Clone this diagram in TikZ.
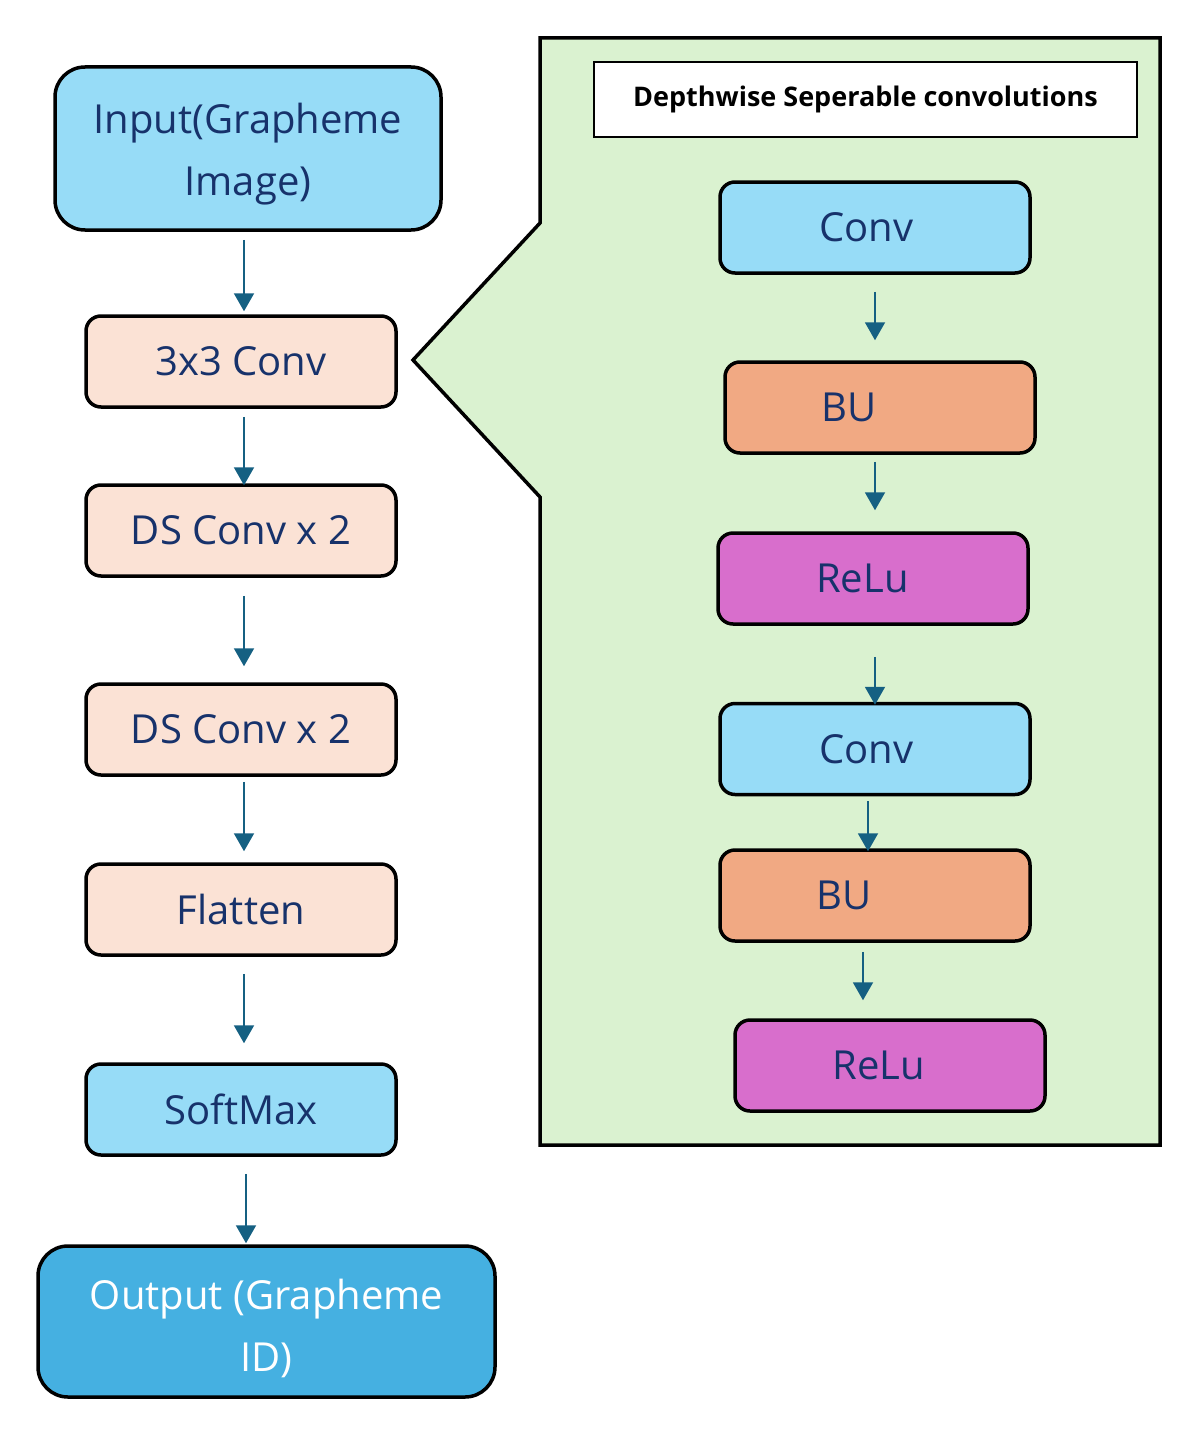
\documentclass[tikz,border=0pt]{standalone}
\usepackage{fontspec}
\setmainfont{Open Sans}
\usetikzlibrary{arrows.meta}
\definecolor{lb}{HTML}{97DCF7}
\definecolor{peach}{HTML}{FBE2D5}
\definecolor{orng}{HTML}{F1A983}
\definecolor{mag}{HTML}{D86ECC}
\definecolor{outb}{HTML}{45B0E1}
\definecolor{grn}{HTML}{DAF2D0}
\definecolor{navy}{HTML}{17326B}
\definecolor{arrowc}{HTML}{156082}
\newcommand{\mainsz}{\fontsize{40}{62}\selectfont}
\tikzset{
  box/.style={draw=black, line width=3.5pt, rounded corners=15pt, minimum width=310pt,
    minimum height=91pt, inner sep=0pt, font=\mainsz, text=navy},
  bigbox/.style={box, rounded corners=30pt, align=center},
  arr/.style={draw=arrowc, line width=2pt, -{Triangle[width=20pt,length=18pt]}},
}
\begin{document}
\begin{tikzpicture}[x=1pt,y=-1pt]
\useasboundingbox (0,0) rectangle (1200,1437);
% callout
\draw[fill=grn, line width=3.5pt, line join=miter] (540,38) -- (1160,38) -- (1160,1145) -- (540,1145) -- (540,497) -- (413,360) -- (540,223) -- cycle;
\node[draw=black, fill=white, line width=2pt, minimum width=543pt, minimum height=75pt, inner sep=0pt,
  font=\bfseries\fontsize{27}{30}\selectfont, text=black] (hd) at (865.5,99.5) {Depthwise Seperable convolutions};
% left column
\node[bigbox, fill=lb, minimum width=386pt, minimum height=163pt] (in) at (248,148.5) {\rule{0pt}{41pt}Input(Grapheme\\Image)};
\node[box, fill=peach] (c33) at (241,361.5) {3x3 Conv};
\node[box, fill=peach] (ds1) at (241,530.5) {DS Conv x 2};
\node[box, fill=peach] (ds2) at (241,729.5) {DS Conv x 2};
\node[box, fill=peach] (fl) at (241,909.5) {Flatten};
\node[box, fill=lb] (sm) at (241,1109.5) {SoftMax};
\node[bigbox, fill=outb, text=white, minimum width=457pt, minimum height=151pt] (out) at (266.5,1321.5) {\rule{0pt}{45pt}Output (Grapheme\\ID)};
% right column
\node[box, fill=lb] (rc1) at (875,227.5) {Conv\hspace*{17pt}};
\node[box, fill=orng] (rb1) at (880,407.5) {BU\hspace*{62pt}};
\node[box, fill=mag] (rr1) at (873,578.5) {ReLu\hspace*{21pt}};
\node[box, fill=lb] (rc2) at (875,749) {Conv\hspace*{17pt}};
\node[box, fill=orng] (rb2) at (875,895.5) {BU\hspace*{62pt}};
\node[box, fill=mag] (rr2) at (890,1065.5) {ReLu\hspace*{22pt}};
% left arrows
\draw[arr] ([xshift=-4pt,yshift=-8pt]in.south) -- ([xshift=3pt,yshift=3pt]c33.north);
\draw[arr] ([xshift=3pt,yshift=-8pt]c33.south) -- ([xshift=3pt,yshift=-2pt]ds1.north);
\draw[arr] ([xshift=3pt,yshift=-18pt]ds1.south) -- ([xshift=3pt,yshift=16pt]ds2.north);
\draw[arr] ([xshift=3pt,yshift=-5pt]ds2.south) -- ([xshift=3pt,yshift=11pt]fl.north);
\draw[arr] ([xshift=3pt,yshift=-17pt]fl.south) -- ([xshift=3pt,yshift=19pt]sm.north);
\draw[arr] ([xshift=5pt,yshift=-17pt]sm.south) -- ([xshift=-20.5pt,yshift=1pt]out.north);
% right arrows
\draw[arr] ([yshift=-17pt]rc1.south) -- ([xshift=-5pt,yshift=20pt]rb1.north);
\draw[arr] ([xshift=-5pt,yshift=-7pt]rb1.south) -- ([xshift=2pt,yshift=21pt]rr1.north);
\draw[arr] ([xshift=2pt,yshift=-31pt]rr1.south) -- ([yshift=-3pt]rc2.north);
\draw[arr] ([xshift=-7pt,yshift=-5pt]rc2.south) -- ([xshift=-7pt,yshift=-3pt]rb2.north);
\draw[arr] ([xshift=-12pt,yshift=-9pt]rb2.south) -- ([xshift=-27pt,yshift=18pt]rr2.north);
\end{tikzpicture}
\end{document}
